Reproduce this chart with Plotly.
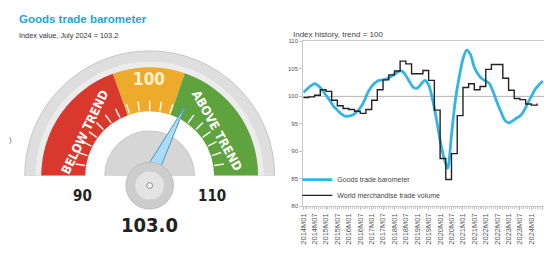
import plotly.graph_objects as go
import pandas as pd

W, H = 544, 254

# ---------------- Gauge data ----------------
gauge_value = 103.0
gauge_min, gauge_max = 90, 110
band_from = [90.0, 97.8, 102.1]
band_to = [97.8, 102.1, 110.0]
band_colors = ["#d8392c", "#eeaa2a", "#5ea33d"]
tick_values = list(range(91, 110))

# ---------------- History data ----------------
# Goods trade barometer, every 2 months from 2014M01 to 2024M07
barometer = [100.7, 101.3, 101.9, 102.3, 101.9, 101.2, 100.2, 99.3, 98.2, 97.5,
             96.8, 96.4, 96.4, 96.6, 97.1, 97.9, 99.1, 100.7, 101.8, 102.5,
             102.9, 103.0, 103.2, 103.6, 104.0, 104.5, 104.6, 103.8, 102.6, 101.6,
             101.5, 102.2, 102.9, 102.1, 99.5, 96.0, 92.0, 88.9, 86.9, 93.0,
             99.3, 103.5, 106.8, 108.4, 107.6, 105.3, 104.0, 103.2, 102.8, 102.3,
             100.8, 98.9, 97.2, 95.7, 95.2, 95.5, 96.0, 96.4, 97.3, 98.7,
             100.0, 101.3, 102.1, 102.8]
# World merchandise trade volume, quarterly from 2014M01
volume = [99.8, 99.9, 100.2, 101.2, 100.9, 99.3, 98.3, 97.8, 97.6, 97.3,
          96.9, 97.6, 99.3, 101.2, 103.0, 103.9, 104.6, 106.4, 105.9, 104.1,
          104.1, 104.7, 102.9, 97.5, 88.7, 84.9, 89.6, 96.5, 101.6, 102.3,
          101.2, 101.8, 104.9, 105.8, 105.8, 103.3, 101.1, 99.6, 99.4, 98.6,
          98.4, 98.7]
tick_labels = ["2014M01", "2014M07", "2015M01", "2015M07", "2016M01", "2016M07",
               "2017M01", "2017M07", "2018M01", "2018M07", "2019M01", "2019M07",
               "2020M01", "2020M07", "2021M01", "2021M07", "2022M01", "2022M07",
               "2023M01", "2023M07", "2024M01", "2024M07"]
y_ticks = [80, 85, 90, 95, 100, 105, 110]

baro_dates = pd.date_range("2014-01-01", periods=len(barometer), freq="2MS")
vol_dates = pd.date_range("2014-01-01", periods=len(volume), freq="3MS")
tick_dates = pd.to_datetime([t.replace("M", "-") + "-01" for t in tick_labels])

NARROW = "Liberation Sans Narrow, DejaVu Sans Condensed, Roboto Condensed, Roboto, sans-serif"


def px(x, y):
    return x / W, 1 - y / H


def theta(v):
    return 180 - (v - gauge_min) / (gauge_max - gauge_min) * 180


fig = go.Figure()

# ---- gauge: rim, bands, dome ----
fig.add_trace(go.Barpolar(r=[17], base=[111], theta=[90], width=[180],
                          marker=dict(color="#dedede", line=dict(color="#c6c6c6", width=1)),
                          showlegend=False, hoverinfo="skip"))
fig.add_trace(go.Barpolar(r=[6], base=[111], theta=[90], width=[180],
                          marker=dict(color="#ececec", line=dict(width=0)),
                          showlegend=False, hoverinfo="skip"))
fig.add_trace(go.Barpolar(
    r=[111 - 66] * 3, base=[66] * 3,
    theta=[(theta(a) + theta(b)) / 2 for a, b in zip(band_from, band_to)],
    width=[abs(theta(a) - theta(b)) for a, b in zip(band_from, band_to)],
    marker=dict(color=band_colors, line=dict(width=0)),
    showlegend=False, hoverinfo="skip"))
fig.add_trace(go.Barpolar(r=[46], base=[0], theta=[90], width=[180],
                          marker=dict(color="#d6d6d6", line=dict(color="#c9c9c9", width=1)),
                          showlegend=False, hoverinfo="skip"))
# white tick marks
tr, tt = [], []
for v in tick_values:
    tr += [67, 77, None]
    tt += [theta(v), theta(v), None]
fig.add_trace(go.Scatterpolar(r=tr, theta=tt, mode="lines",
                              line=dict(color="rgba(255,255,255,0.9)", width=1.5),
                              showlegend=False, hoverinfo="skip"))
# needle
tn = theta(gauge_value)
fig.add_trace(go.Scatterpolar(r=[80, 14, 14, 80], theta=[tn, tn + 26, tn - 26, tn],
                              mode="lines", fill="toself", fillcolor="#a9dcf5",
                              line=dict(color="#4a94c6", width=1),
                              showlegend=False, hoverinfo="skip"))

# ---- history chart ----
fig.add_trace(go.Scatter(x=baro_dates, y=barometer, mode="lines", name="Goods trade barometer",
                         line=dict(color="#33b4e4", width=2.8, shape="spline", smoothing=0.8),
                         legend="legend"))
fig.add_trace(go.Scatter(x=vol_dates, y=volume, mode="lines", name="World merchandise trade volume",
                         line=dict(color="#222222", width=1.4, shape="hv"),
                         legend="legend2"))

fig.add_hline(y=100, line=dict(color="#b4b4b4", width=1), layer="below")

x0, y0 = px(301, 208.3)
x1, y1 = px(544, 39.3)

leg_common = dict(xanchor="left", yanchor="middle", bgcolor="rgba(0,0,0,0)",
                  font=dict(size=7, color="#444"), itemwidth=30)

fig.update_layout(
    width=W, height=H,
    margin=dict(l=0, r=0, t=0, b=0),
    paper_bgcolor="white", plot_bgcolor="white",
    font=dict(family="Liberation Sans", color="#444"),
    polar=dict(
        domain=dict(x=[12 / W, 280 / W], y=[1 - 177 / H, 1 - 43 / H]),
        sector=[0, 180], bgcolor="rgba(0,0,0,0)", barmode="overlay",
        radialaxis=dict(range=[0, 134], visible=False),
        angularaxis=dict(visible=False, rotation=0, direction="counterclockwise"),
    ),
    xaxis=dict(domain=[x0, 1.0], range=["2014-01-01", "2024-07-21"],
               tickvals=tick_dates, ticktext=tick_labels, tickangle=-90,
               tickfont=dict(size=7.5, color="#555"),
               showgrid=False, zeroline=False,
               showline=True, linecolor="#c8c8c8", linewidth=1, mirror=True,
               ticks="outside", ticklen=3, tickcolor="#c0c0c0",
               minor=dict(ticks="outside", ticklen=2, dtick="M1", tickcolor="#cccccc")),
    yaxis=dict(domain=[y0, y1], range=[80, 110], tickvals=y_ticks,
               tickfont=dict(size=6, color="#555"),
               showgrid=False, zeroline=False,
               showline=True, linecolor="#c8c8c8", linewidth=1,
               ticks="outside", ticklen=3, tickcolor="#c8c8c8"),
    legend=dict(x=295 / W, y=1 - 181 / H, **leg_common),
    legend2=dict(x=295 / W, y=1 - 197 / H, **leg_common),
)

# hub of the gauge
def circle(cx, cy, r, fill, line):
    a, b = px(cx - r, cy + r)
    c, d = px(cx + r, cy - r)
    fig.add_shape(type="circle", xref="paper", yref="paper", x0=a, y0=b, x1=c, y1=d,
                  fillcolor=fill, line=dict(color=line, width=1), layer="above")

circle(146, 187, 24, "#cdcdcd", "#bcbcbc")
circle(146, 187, 15, "#e4e4e4", "#d0d0d0")
circle(146, 187, 3, "#f4f4f4", "#8c8c8c")


def note(text, x, y, size, color, family="Liberation Sans", bold=False, angle=0,
         xanchor="center"):
    ax, ay = px(x, y)
    fig.add_annotation(x=ax, y=ay, xref="paper", yref="paper", text=f"<b>{text}</b>" if bold else text,
                       showarrow=False, xanchor=xanchor, yanchor="middle", textangle=angle,
                       font=dict(size=size, color=color, family=family))


note("Goods trade barometer", 12, 16, 11.5, "#22a6d9", bold=True, xanchor="left")
note("Index value, July 2024 = 103.2", 12, 33, 7.3, "#333", xanchor="left")
note("Index history, trend = 100", 289, 32, 8, "#444", xanchor="left")
note(")", 6, 140, 8, "#777")
note("100", 145, 78, 17, "#fdf1cf", family=NARROW, bold=True)
note("BELOW TREND", 81, 132, 12.5, "#ffffff", family=NARROW, bold=True, angle=-64)
note("ABOVE TREND", 214, 131, 12.5, "#ffffff", family=NARROW, bold=True, angle=61)
note("90", 78, 198, 15, "#222", family=NARROW, bold=True)
note("110", 209, 198, 15, "#222", family=NARROW, bold=True)
note(f"{gauge_value:.1f}", 146, 227, 20, "#222", family=NARROW, bold=True)

fig.write_html("out.html", config={"displayModeBar": False},
               post_script="document.body.style.margin='0';")
